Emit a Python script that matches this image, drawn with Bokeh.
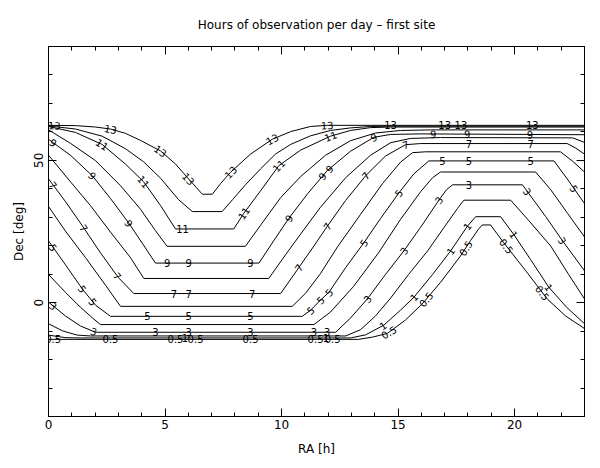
import numpy as np
from bokeh.plotting import figure
from bokeh.models import Range1d, LinearAxis, SingleIntervalTicker, ColumnDataSource
from bokeh.core.properties import value
from bokeh.embed import file_html
from bokeh.resources import INLINE

TITLE = "Hours of observation per day \u2013 first site"
X_LABEL = "RA [h]"
Y_LABEL = "Dec [deg]"

# contour levels (hours): RA [h] and Dec [deg]
ra_13 = [0, 1.16, 2.02, 2.66, 3.30, 3.95, 4.81, 5.45, 6.01, 6.35, 6.60, 7.03, 7.38, 7.81, 8.67, 9.60, 10.39, 11.24, 11.96, 23.0]
dec_13 = [62.3, 62.2, 61.7, 61.0, 59.5, 57.0, 53.3, 48.7, 43.5, 40.4, 38.1, 38.1, 41.8, 45.8, 52.2, 57.4, 60.1, 61.9, 62.3, 62.3]

ra_12 = [0, 1.16, 2.30, 3.30, 4.08, 4.81, 5.58, 6.17, 7.45, 7.90, 8.45, 9.10, 9.74, 10.39, 11.24, 12.10, 12.96, 13.82, 14.68, 23.0]
dec_12 = [62.1, 61.0, 58.5, 54.1, 49.5, 43.7, 36.2, 32.0, 32.0, 36.2, 41.4, 47.0, 52.2, 55.6, 58.6, 60.5, 61.4, 61.9, 62.0, 62.0]

ra_11 = [0, 1.16, 2.30, 3.30, 4.08, 4.81, 5.45, 7.95, 8.38, 9.10, 9.88, 10.82, 12.10, 12.96, 13.82, 14.68, 23.0]
dec_11 = [61.9, 59.8, 55.6, 48.7, 42.5, 34.1, 25.9, 25.9, 31.4, 39.3, 48.1, 53.6, 58.5, 60.5, 61.5, 61.7, 61.7]

ra_10 = [0, 0.94, 2.02, 3.09, 3.95, 4.59, 5.09, 8.45, 9.10, 9.96, 10.82, 11.89, 12.96, 14.03, 15.11, 16.39, 23.0]
dec_10 = [60.7, 56.0, 49.9, 41.1, 32.8, 25.3, 19.8, 19.8, 27.2, 36.9, 44.3, 51.8, 56.9, 59.6, 60.5, 60.7, 60.7]

ra_9 = [0, 0.94, 1.88, 2.66, 3.45, 4.16, 4.59, 9.03, 9.66, 10.31, 11.12, 11.96, 12.96, 13.96, 14.68, 15.97, 23.0]
dec_9 = [57.4, 51.8, 44.6, 36.6, 27.9, 19.2, 13.9, 13.9, 21.7, 29.6, 38.3, 46.4, 53.2, 58.1, 59.1, 59.3, 59.0]

ra_8 = [0, 0.94, 1.80, 2.66, 3.52, 4.09, 9.45, 10.17, 10.82, 11.67, 12.75, 13.82, 14.68, 15.54, 16.82, 22.49, 23.0]
dec_8 = [51.8, 42.5, 34.1, 24.8, 15.8, 8.5, 8.5, 16.8, 24.1, 33.5, 43.9, 51.8, 56.2, 57.7, 58.0, 57.9, 56.3]

ra_7 = [0, 0.73, 1.52, 2.23, 3.00, 3.66, 9.96, 10.74, 11.33, 11.96, 12.75, 13.61, 14.46, 15.32, 15.97, 22.26, 22.62, 23.0]
dec_7 = [43.5, 35.5, 26.2, 17.5, 8.8, 3.2, 3.2, 12.3, 19.2, 26.8, 35.9, 44.6, 51.5, 55.5, 55.9, 55.9, 54.3, 52.2]

ra_6 = [0, 0.73, 1.59, 2.45, 3.09, 10.46, 11.03, 11.67, 12.40, 13.39, 14.33, 15.11, 15.62, 16.18, 21.97, 22.49, 23.0]
dec_6 = [33.8, 25.1, 15.8, 6.1, -1.3, -1.3, 3.3, 10.2, 19.6, 31.0, 41.8, 49.4, 52.7, 53.0, 53.0, 49.7, 45.9]

ra_5 = [0, 0.73, 1.45, 2.02, 2.66, 10.89, 11.24, 11.67, 12.03, 12.75, 13.53, 14.25, 15.03, 15.67, 16.32, 21.69, 22.32, 23.0]
dec_5 = [21.7, 13.3, 4.8, -0.9, -4.8, -4.8, -2.7, 0.9, 3.6, 12.3, 21.0, 29.6, 38.5, 45.2, 49.8, 49.8, 42.8, 34.8]

ra_4 = [0, 0.73, 1.37, 1.89, 2.23, 11.39, 12.10, 13.09, 14.16, 15.11, 15.97, 16.48, 16.82, 20.90, 21.55, 22.27, 23.0]
dec_4 = [9.9, 3.6, -1.6, -5.4, -7.7, -7.7, -3.3, 5.7, 17.5, 29.3, 39.0, 43.9, 45.9, 45.9, 39.7, 31.4, 23.1]

ra_3 = [0, 0.73, 1.37, 2.02, 12.32, 12.96, 13.68, 14.46, 15.25, 15.97, 16.75, 17.08, 17.34, 20.34, 20.56, 21.33, 22.05, 23.0]
dec_3 = [0.2, -4.7, -8.2, -10.4, -10.4, -5.4, 1.3, 9.9, 18.2, 26.5, 36.0, 39.7, 41.4, 41.4, 38.9, 30.3, 21.8, 11.2]

ra_2 = [0, 0.60, 1.23, 1.80, 12.75, 13.39, 14.03, 14.68, 15.45, 16.27, 17.04, 17.55, 17.82, 19.83, 20.56, 21.55, 22.32, 23.0]
dec_2 = [-7.4, -9.9, -11.4, -11.7, -11.7, -9.5, -4.7, 1.6, 9.9, 18.2, 27.2, 33.1, 36.0, 36.0, 29.3, 19.9, 9.9, 1.3]

ra_1 = [0, 0.73, 1.37, 12.96, 13.61, 14.39, 15.11, 15.68, 16.48, 17.25, 17.97, 18.33, 19.40, 19.97, 20.69, 21.47, 22.23, 23.0]
dec_1 = [-11.4, -12.3, -12.4, -12.4, -11.3, -7.9, -2.6, 1.9, 9.9, 18.1, 26.8, 30.2, 30.2, 23.9, 15.1, 5.4, -1.6, -7.4]

ra_05 = [0, 13.30, 13.91, 14.54, 15.32, 16.04, 16.82, 17.68, 18.11, 18.45, 18.61, 18.97, 19.23, 19.54, 20.47, 21.40, 22.19, 23.0]
dec_05 = [-12.9, -12.9, -12.1, -10.8, -6.1, -0.4, 7.1, 16.4, 21.8, 25.8, 27.3, 27.3, 24.4, 21.0, 11.3, 1.3, -4.7, -9.1]

contours = [
    (13, ra_13, dec_13), (12, ra_12, dec_12), (11, ra_11, dec_11), (10, ra_10, dec_10),
    (9, ra_9, dec_9), (8, ra_8, dec_8), (7, ra_7, dec_7), (6, ra_6, dec_6),
    (5, ra_5, dec_5), (4, ra_4, dec_4), (3, ra_3, dec_3), (2, ra_2, dec_2),
    (1, ra_1, dec_1), (0.5, ra_05, dec_05),
]

# RA where each labelled level carries a label
label_ra = {
    13: [0.25, 2.66, 4.81, 6.01, 7.81, 9.60, 11.96, 14.68, 17.0, 17.7, 20.76],
    11: [2.30, 4.08, 5.75, 8.38, 9.88, 12.10],
    9: [0.2, 1.88, 3.45, 5.09, 6.02, 8.67, 10.31, 11.75, 12.05, 13.96, 16.51, 17.97, 20.66],
    7: [0.2, 1.52, 2.95, 5.38, 6.02, 8.74, 10.74, 11.96, 13.61, 15.32, 18.04, 20.69],
    5: [0.2, 1.45, 1.90, 4.24, 6.02, 8.67, 11.24, 11.67, 12.03, 13.53, 15.03, 16.90, 18.04, 20.69, 22.55],
    3: [0.2, 1.94, 4.59, 6.02, 8.67, 11.39, 11.96, 13.68, 15.25, 16.75, 18.04, 20.55, 22.05],
    1: [5.85, 11.9, 14.35, 15.68, 17.25, 17.97, 19.97, 21.47],
    0.5: [0.2, 2.66, 5.45, 6.31, 8.67, 11.46, 12.19, 14.6, 16.2, 17.9, 19.65, 21.2],
}

FONT = "DejaVu Sans"
FRAME_W, FRAME_H = 536, 374
X0, X1, Y0, Y1 = 0, 23, -40, 90

p = figure(width=590, height=458, x_range=Range1d(X0, X1), y_range=Range1d(Y0, Y1),
           output_backend="svg", toolbar_location=None, title=TITLE,
           min_border_left=48, min_border_right=6, min_border_top=42, min_border_bottom=42)
p.background_fill_color = "white"
p.border_fill_color = "white"
p.outline_line_color = "black"
p.xgrid.visible = False
p.ygrid.visible = False

p.title.align = "center"
p.title.text_font = FONT
p.title.text_font_size = "12px"
p.title.text_font_style = "normal"
p.title.text_color = "black"
p.title.standoff = 30

xt = SingleIntervalTicker(interval=5, num_minor_ticks=5)
yt = SingleIntervalTicker(interval=50, num_minor_ticks=5)
p.xaxis.ticker = xt
p.yaxis.ticker = yt
p.xaxis.axis_label = X_LABEL
p.yaxis.axis_label = Y_LABEL
p.yaxis.major_label_orientation = "vertical"


def style(ax, labels=True):
    ax.major_tick_in = 8
    ax.major_tick_out = 0
    ax.minor_tick_in = 4
    ax.minor_tick_out = 0
    ax.axis_line_color = "black"
    ax.major_tick_line_color = "black"
    ax.minor_tick_line_color = "black"
    ax.major_label_text_font = FONT
    ax.axis_label_text_font = FONT
    ax.axis_label_text_font_style = "normal"
    ax.axis_label_text_font_size = "12px"
    ax.axis_label_text_color = "black"
    if labels:
        ax.major_label_text_color = "black"
        ax.major_label_text_font_size = "12px"
    else:
        ax.major_label_text_color = None
        ax.major_label_text_font_size = "1px"
        ax.major_label_standoff = 0


for ax in p.xaxis:
    style(ax)
    ax.major_label_standoff = 3
    ax.axis_label_standoff = 10
for ax in p.yaxis:
    style(ax)
    ax.major_label_standoff = 5
    ax.axis_label_standoff = 6

top = LinearAxis(ticker=xt)
style(top, labels=False)
p.add_layout(top, "above")
right = LinearAxis(ticker=yt)
style(right, labels=False)
p.add_layout(right, "right")

xs = [list(c[1]) for c in contours]
ys = [list(c[2]) for c in contours]
p.multi_line(xs=xs, ys=ys, line_color="black", line_width=1)

px = FRAME_W / (X1 - X0)
py = FRAME_H / (Y1 - Y0)
lx, ly, lt, la = [], [], [], []
lookup = {c[0]: (np.array(c[1]), np.array(c[2])) for c in contours}
for lev, ras in label_ra.items():
    r_arr, d_arr = lookup[lev]
    for r in ras:
        d = float(np.interp(r, r_arr, d_arr))
        d1 = float(np.interp(r - 0.15, r_arr, d_arr))
        d2 = float(np.interp(r + 0.15, r_arr, d_arr))
        ang = float(np.arctan2((d2 - d1) * py, 0.30 * px))
        lx.append(r)
        ly.append(d)
        lt.append("0.5" if lev == 0.5 else str(int(lev)))
        la.append(ang)

src = ColumnDataSource(dict(x=lx, y=ly, text=lt, angle=la))
p.text(x="x", y="y", text="text", angle="angle", source=src,
       text_font=value(FONT), text_font_size="10px", text_color="black",
       text_align="center", text_baseline="middle")

open("out.html", "w").write(file_html(p, INLINE))
